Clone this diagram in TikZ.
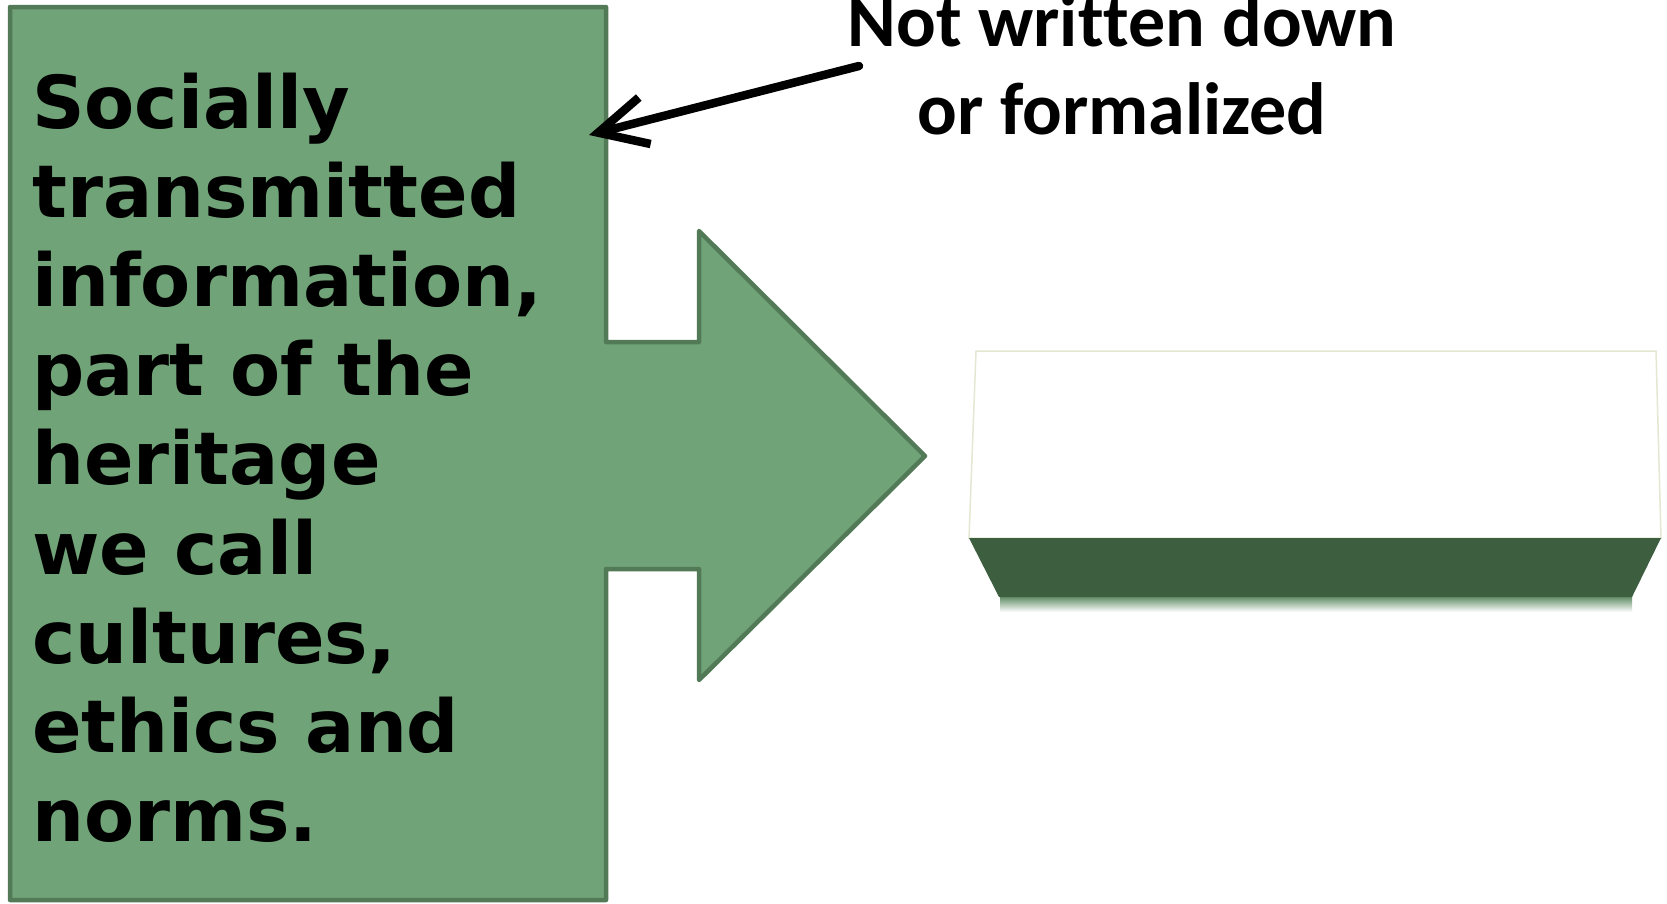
\documentclass[tikz,border=0pt]{standalone}
\usepackage{fontspec}
\newfontfamily\boxfont{DejaVu Sans}
\newfontfamily\labfont{Carlito}[RawFeature={-liga;-clig;-calt;-dlig}]
\usetikzlibrary{arrows.meta}
\definecolor{boxfill}{HTML}{71A378}
\definecolor{boxline}{HTML}{527A57}
\definecolor{slabdark}{HTML}{3D5F40}
\definecolor{slabedge}{HTML}{E4E8D2}
\definecolor{slabshadow}{HTML}{5A885F}
\tikzset{
  greenshape/.style={draw=boxline, line width=4.5pt, fill=boxfill, line join=round},
  boxtext/.style={anchor=base west, inner sep=0pt, font=\boxfont\bfseries\fontsize{73}{89.2}\selectfont},
  labtext/.style={anchor=base, inner sep=0pt, font=\labfont\bfseries\fontsize{74}{88}\selectfont},
  pointer/.style={line width=8.5pt, line cap=round, -{Straight Barb[length=48pt,width=48pt]}},
}
\begin{document}
\begin{tikzpicture}[x=1pt,y=-1pt]
\useasboundingbox (0,0) rectangle (1667,903);
\fill[white] (0,0) rectangle (1667,903);
% box with block arrow
\path[greenshape] (10,7) -- (606,7) -- (606,342) -- (699,342) -- (699,231) -- (925,456)
  -- (699,680) -- (699,569) -- (606,569) -- (606,900) -- (10,900) -- cycle;
% slab
\shade[top color=slabshadow, bottom color=white] (1000,596) rectangle (1632,612);
\draw[slabedge, line width=1.5pt, fill=white] (976,351) -- (1656,351) -- (1661,538) -- (969,538) -- cycle;
\fill[slabdark] (969,538) -- (1661,538) -- (1632,597) -- (999,597) -- cycle;
% texts
\node[boxtext] (info) at (32,128) {\parbox[t]{600pt}{\raggedright Socially\\transmitted\\information,\\part of the\\heritage\\we call\\cultures,\\ethics and\\norms.}};
\node[labtext] (lab) at (1122,46.8) {\parbox[t]{700pt}{\centering Not writ\kern0pt ten down\\or formalized}};
\coordinate (arrstart) at (859,66);
\coordinate (arrtip) at (589,135);
\draw[pointer] (arrstart) -- (arrtip);
\end{tikzpicture}
\end{document}
